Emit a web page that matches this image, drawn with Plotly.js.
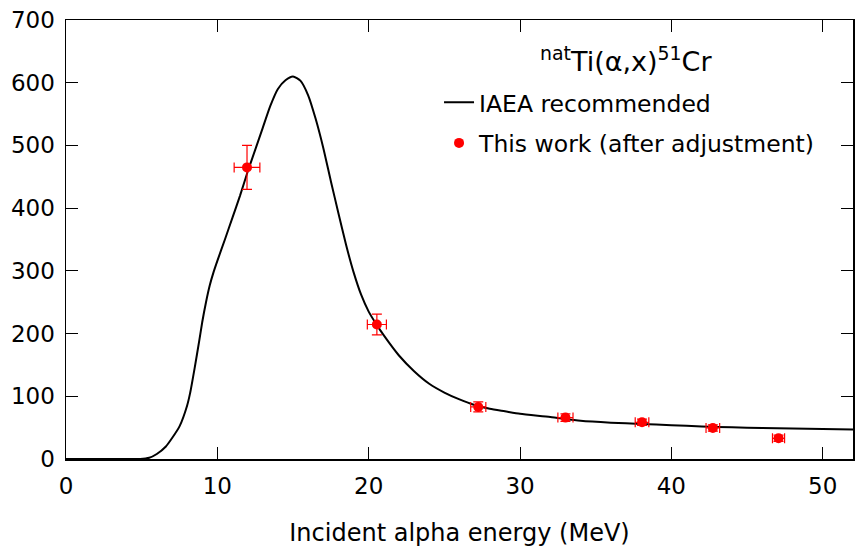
<!DOCTYPE html>
<html>
<head>
<meta charset="utf-8">
<script src="https://cdn.plot.ly/plotly-3.0.1.min.js"></script>
<style>html,body{margin:0;padding:0;background:#fff}#chart{width:855px;height:555px}</style>
</head>
<body>
<div id="chart"></div>
<script>
// IAEA recommended cross section (mb) vs incident alpha energy (MeV)
const iaeaEnergy = [0, 4.5, 4.9, 5.5, 6.0, 6.6, 7.0, 7.5, 8.0, 8.2, 8.5, 8.8, 9.0, 9.25, 9.5, 9.75, 10.0, 10.5, 11.0, 11.5, 12.0, 12.5, 13.0, 13.5, 14.0, 14.5, 15.0, 15.5, 16.0, 16.5, 17.0, 17.5, 18.0, 18.5, 19.0, 19.5, 20.0, 20.5, 21.0, 22.0, 23.0, 24.0, 25.0, 26.0, 27.0, 28.0, 29.0, 30.0, 32.0, 34.0, 36.0, 38.0, 40.0, 42.0, 44.0, 46.0, 48.0, 50.0, 52.0];
const iaeaXs = [0, 0, 0, 2, 8, 20, 33, 52, 85, 105, 145, 188, 218, 250, 277, 298, 316, 350, 385, 420, 458, 493, 528, 563, 590, 604, 610, 603, 580, 542, 496, 443, 392, 342, 298, 262, 235, 215, 197, 165, 140, 120, 106, 95, 86, 80, 76, 72, 67, 61, 58, 56, 54, 52, 50.5, 49.5, 48.5, 48, 47];

// This work (after adjustment)
const workEnergy = [11.96, 20.54, 27.24, 33.0, 38.06, 42.74, 47.08];
const workEnergyErr = [0.85, 0.63, 0.5, 0.5, 0.45, 0.45, 0.4];
const workXs = [465, 214.5, 83, 66, 58.5, 49.5, 33];
const workXsErr = [35, 16.5, 8, 6, 5, 5, 5];

const titleText = "<sup>nat</sup>Ti(α,x)<sup>51</sup>Cr";
const xTitle = "Incident alpha energy (MeV)";
const lineName = "IAEA recommended";
const pointName = "This work (after adjustment)";

const FONT = "'DejaVu Sans', 'Verdana', sans-serif";

const traces = [
  {
    x: iaeaEnergy, y: iaeaXs, type: 'scatter', mode: 'lines', name: lineName,
    line: {color: '#000000', width: 2, shape: 'spline', smoothing: 0.6},
    legendgroup: 'a'
  },
  {
    x: workEnergy, y: workXs, type: 'scatter', mode: 'markers', name: pointName,
    marker: {color: '#ff0000', size: 10},
    error_x: {type: 'data', array: workEnergyErr, visible: true, color: '#ff0000', thickness: 1.2, width: 5},
    error_y: {type: 'data', array: workXsErr, visible: true, color: '#ff0000', thickness: 1.2, width: 5},
    legendgroup: 'b'
  }
];

const axisCommon = {
  showgrid: false, zeroline: false, showline: true, linecolor: '#000', linewidth: 1.5,
  mirror: 'ticks', ticks: 'inside', ticklen: 12, tickwidth: 1, tickcolor: '#000',
  tickfont: {family: FONT, size: 23, color: '#000'}
};

const layout = {
  width: 855, height: 555,
  margin: {l: 66, r: 2, t: 20, b: 96},
  paper_bgcolor: '#fff', plot_bgcolor: '#fff',
  font: {family: FONT, size: 23, color: '#000'},
  xaxis: Object.assign({}, axisCommon, {
    range: [0, 52], tickvals: [0, 10, 20, 30, 40, 50], ticklabelstandoff: 6,
    title: {text: xTitle, font: {family: FONT, size: 24, color: '#000'}, standoff: 26}
  }),
  yaxis: Object.assign({}, axisCommon, {
    range: [0, 700], tickvals: [0, 100, 200, 300, 400, 500, 600, 700], ticklabelstandoff: 5
  }),
  showlegend: true,
  legend: {
    x: 0.474, y: 0.862, xanchor: 'left', yanchor: 'top',
    bgcolor: 'rgba(0,0,0,0)', borderwidth: 0,
    font: {family: FONT, size: 23.5, color: '#000'},
    traceorder: 'grouped', tracegroupgap: 7, itemwidth: 30
  },
  annotations: [
    {text: titleText, xref: 'paper', yref: 'paper', x: 0.712, y: 0.91, xanchor: 'center', yanchor: 'middle',
     showarrow: false, font: {family: FONT, size: 27, color: '#000'}}
  ]
};

Plotly.newPlot('chart', traces, layout, {displayModeBar: false, staticPlot: true});
</script>
</body>
</html>
